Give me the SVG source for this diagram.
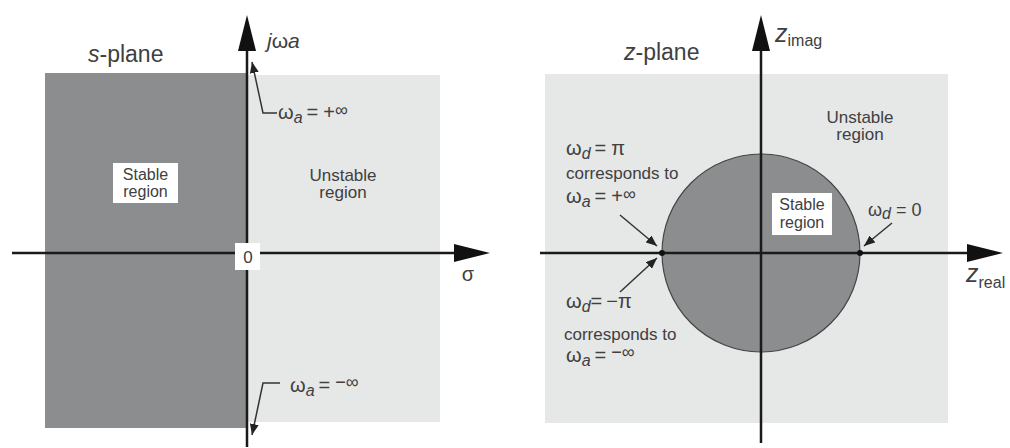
<svg xmlns="http://www.w3.org/2000/svg" width="1010" height="448" viewBox="0 0 1010 448">
<defs>
<style>
text{font-family:"Liberation Sans",Arial,sans-serif;fill:#404040}
.ax{stroke:#1a1a1a;stroke-width:2.5;fill:none}
.ld{stroke:#333;stroke-width:1.5;fill:none}
.lbl{font-size:16px;text-anchor:middle}
.ulbl{font-size:17px;text-anchor:middle}
.ann{font-size:17px}
.eq{font-size:20px}
.ttl{font-size:23px}
.it{font-style:italic}
.sub{font-style:italic;font-size:16px}
.inf{font-size:18px}
</style>
<marker id="big" markerWidth="36" markerHeight="18" viewBox="0 0 36 18" refX="16" refY="9" orient="auto" markerUnits="userSpaceOnUse">
<path d="M0,0 L36,9 L0,18 Z" fill="#111"/>
</marker>
<marker id="sm" markerWidth="11" markerHeight="9" viewBox="0 0 11 9" refX="11" refY="4.5" orient="auto" markerUnits="userSpaceOnUse">
<path d="M0,0 L11,4.5 L0,9 Z" fill="#222"/>
</marker>
</defs>
<rect width="1010" height="448" fill="#fff"/>
<g id="s-plane">
<rect id="s-unstable-bg" x="247" y="75" width="193" height="347" fill="#e6e7e7"/>
<rect id="s-stable-bg" x="45" y="73" width="202" height="355" fill="#8b8d8e"/>
<text class="ttl" x="88" y="62"><tspan class="it">s</tspan>-plane</text>
</g>
<g id="z-plane">
<rect id="z-bg" x="545" y="74" width="403" height="349" fill="#e6e7e7"/>
<circle id="unit-circle" cx="761" cy="253" r="99" fill="#8b8d8e" stroke="#444" stroke-width="1.2"/>
<text class="ttl" x="624" y="60" font-size="24"><tspan class="it">z</tspan>-plane</text>
</g>
<g id="connectors">
<line class="ax" x1="12" y1="253" x2="470" y2="253" marker-end="url(#big)"/>
<line class="ax" x1="247" y1="447" x2="247" y2="35" marker-end="url(#big)"/>
<line class="ax" x1="540" y1="253" x2="983" y2="253" marker-end="url(#big)"/>
<line class="ax" x1="761" y1="443" x2="761" y2="35" marker-end="url(#big)"/>
<polyline class="ld" points="277,113 263,113 252,62" marker-end="url(#sm)"/>
<polyline class="ld" points="280,383 263,383 252,435" marker-end="url(#sm)"/>
<line class="ld" x1="620" y1="215" x2="657" y2="246" marker-end="url(#sm)"/>
<line class="ld" x1="620" y1="292" x2="657" y2="258" marker-end="url(#sm)"/>
<line class="ld" x1="892" y1="223" x2="864" y2="246" marker-end="url(#sm)"/>
</g>
<g id="s-stable-label">
<rect x="113" y="163" width="65" height="40" fill="#fff"/>
<text class="lbl" x="145.5" y="180">Stable</text>
<text class="lbl" x="145.5" y="197">region</text>
</g>
<g id="s-unstable-label">
<text class="ulbl" x="343" y="181">Unstable</text>
<text class="ulbl" x="343" y="198">region</text>
</g>
<g id="origin-label">
<rect x="235" y="243" width="25" height="27" fill="#fff"/>
<text x="248" y="263" font-size="17" text-anchor="middle">0</text>
</g>
<g id="sigma-label"><text x="468" y="281" font-size="20" text-anchor="middle">σ</text></g>
<g id="jw-label"><text x="267" y="48" font-size="21"><tspan class="it">j</tspan>ω<tspan class="it">a</tspan></text></g>
<g id="wa-plus-label"><text class="eq" x="278" y="119">ω<tspan class="sub" dy="4">a</tspan><tspan dy="-4" dx="4">=</tspan><tspan dx="5">+</tspan><tspan class="inf" dy="-3">∞</tspan></text></g>
<g id="wa-minus-label"><text class="eq" x="290" y="392">ω<tspan class="sub" dy="4">a</tspan><tspan dy="-4" dx="4">=</tspan><tspan class="inf" dy="-4" dx="5">−∞</tspan></text></g>
<g id="z-unstable-label">
<text class="ulbl" x="860" y="123">Unstable</text>
<text class="ulbl" x="860" y="140">region</text>
</g>
<g id="z-stable-label">
<rect x="772" y="193" width="60" height="42" fill="#fff"/>
<text class="lbl" x="802" y="210" font-size="15">Stable</text>
<text class="lbl" x="802" y="228" font-size="15">region</text>
</g>
<g id="pi-label">
<text class="eq" x="566" y="155">ω<tspan class="sub" dy="4">d</tspan><tspan dy="-4" dx="4">=</tspan><tspan dx="5">π</tspan></text>
<text class="ann" x="566" y="179">corresponds to</text>
<text class="eq" x="566" y="203">ω<tspan class="sub" dy="4">a</tspan><tspan dy="-4" dx="4">=</tspan><tspan dx="5">+</tspan><tspan class="inf" dy="-3">∞</tspan></text>
</g>
<g id="minus-pi-label">
<text class="eq" x="566" y="308">ω<tspan class="sub" dy="4">d</tspan><tspan dy="-4">=</tspan><tspan dx="4">−π</tspan></text>
<text class="ann" x="564" y="340">corresponds to</text>
<text class="eq" x="566" y="362">ω<tspan class="sub" dy="4">a</tspan><tspan dy="-4" dx="4">=</tspan><tspan class="inf" dy="-4" dx="5">−∞</tspan></text>
</g>
<g id="zero-label"><text x="868" y="216" font-size="18">ω<tspan class="sub" dy="3">d</tspan><tspan dy="-3"> = 0</tspan></text></g>
<g id="zimag-label"><text x="775" y="42" font-size="25" class="it">z<tspan font-size="16" font-style="normal" dy="4">imag</tspan></text></g>
<g id="zreal-label"><text x="966" y="282" font-size="25" class="it">z<tspan font-size="16" font-style="normal" dy="6">real</tspan></text></g>
<g id="points">
<circle cx="662" cy="253" r="3" fill="#111"/>
<circle cx="860" cy="253" r="3" fill="#111"/>
</g>
</svg>
